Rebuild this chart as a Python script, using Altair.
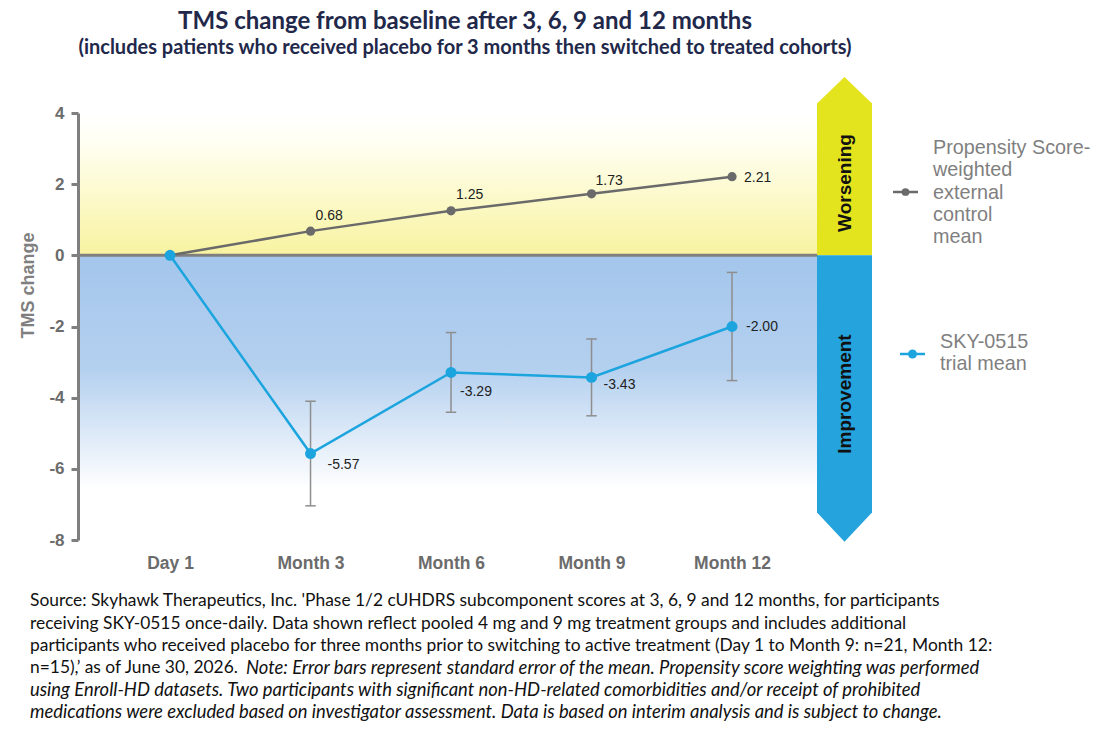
import json
import altair as alt
import pandas as pd

# ---------------- data ----------------
periods = ["Day 1", "Month 3", "Month 6", "Month 9", "Month 12"]
period_index = [0, 1, 2, 3, 4]
control_mean = [0.0, 0.68, 1.25, 1.73, 2.21]
trial_mean = [0.0, -5.57, -3.29, -3.43, -2.00]
trial_se = [0.0, 1.47, 1.12, 1.08, 1.52]
y_ticks = [-8, -6, -4, -2, 0, 2, 4]

series_names = ["Propensity Score-\nweighted\nexternal\ncontrol\nmean", "SKY-0515\ntrial mean"]
zone_labels = ["Worsening", "Improvement"]

title_text = "TMS change from baseline after 3, 6, 9 and 12 months"
subtitle_text = "(includes patients who received placebo for 3 months then switched to treated cohorts)"
footer_normal = [
    "Source: Skyhawk Therapeutics, Inc. 'Phase 1/2 cUHDRS subcomponent scores at 3, 6, 9 and 12 months, for participants",
    "receiving SKY-0515 once-daily. Data shown reflect pooled 4 mg and 9 mg treatment groups and includes additional",
    "participants who received placebo for three months prior to switching to active treatment (Day 1 to Month 9: n=21, Month 12:",
    "n=15),\u2019 as of June 30, 2026.",
]
footer_italic = [
    "Note: Error bars represent standard error of the mean. Propensity score weighting was performed",
    "using Enroll-HD datasets. Two participants with significant non-HD-related comorbidities and/or receipt of prohibited",
    "medications were excluded based on investigator assessment. Data is based on interim analysis and is subject to change.",
]

# ---------------- frames ----------------
ctrl = pd.DataFrame({"i": period_index, "period": periods, "v": control_mean})
ctrl["lbl"] = ctrl["v"].map(lambda v: f"{v:.2f}")
trial = pd.DataFrame({"i": period_index, "period": periods, "v": trial_mean, "se": trial_se})
trial["lbl"] = trial["v"].map(lambda v: f"{v:.2f}")
trial["lo"] = trial["v"] - trial["se"]
trial["hi"] = trial["v"] + trial["se"]
errs = trial[trial["se"] > 0]

W, H = 1022, 427
AX = "Liberation Sans"
GRAY = "#7f7f7f"
CTRL_C = "#6a6a6a"
TRIAL_C = "#1ca4de"

xs = alt.Scale(domain=[-0.655, 6.619], nice=False, zero=False)
ys = alt.Scale(domain=[-8, 4], nice=False, zero=False)

x_axis = alt.Axis(
    values=period_index,
    labelExpr=json.dumps(periods) + "[datum.value]",
    domain=False, ticks=False, grid=False, title=None,
    labelFont=AX, labelFontWeight="bold", labelFontSize=17.5, labelColor="#6b6b6b",
    labelPadding=14,
)
y_axis = alt.Axis(
    values=y_ticks, grid=False, title="TMS change",
    labelExpr="toString(datum.value)",
    labelFont=AX, labelFontWeight="bold", labelFontSize=17, labelColor="#6b6b6b",
    labelPadding=7, tickSize=7, tickWidth=3, tickColor=GRAY,
    domainColor=GRAY, domainWidth=3,
    titleFont=AX, titleFontWeight="bold", titleFontSize=18, titleColor=GRAY,
    titleBaseline="alphabetic", titleX=-45, titleY=172, titleAngle=270,
    zindex=1,
)


def X(field):
    return alt.X(field, type="quantitative", scale=xs, axis=x_axis)


def Y(field):
    return alt.Y(field, type="quantitative", scale=ys, axis=y_axis)


one = pd.DataFrame({"a": [0]})

# ---------------- backgrounds ----------------
zones = pd.DataFrame({"top": [4, 0], "bottom": [0, -8], "zone": ["worse", "better"]})
yellow_grad = alt.LinearGradient(
    gradient="linear", x1=0, x2=0, y1=0, y2=1,
    stops=[alt.GradientStop(color="#ffffff", offset=0),
           alt.GradientStop(color="#fffff3", offset=0.2),
           alt.GradientStop(color="#f8f3a0", offset=1)],
)
blue_grad = alt.LinearGradient(
    gradient="linear", x1=0, x2=0, y1=0, y2=1,
    stops=[alt.GradientStop(color="#a4c6ec", offset=0),
           alt.GradientStop(color="#b4d0ef", offset=0.4),
           alt.GradientStop(color="#ffffff", offset=0.82),
           alt.GradientStop(color="#ffffff", offset=1)],
)
bg_yellow = alt.Chart(zones).transform_filter("datum.zone == 'worse'").mark_rect(color=yellow_grad).encode(
    x=alt.value(0), x2=alt.value(740), y=Y("top"), y2="bottom:Q")
bg_blue = alt.Chart(zones).transform_filter("datum.zone == 'better'").mark_rect(color=blue_grad).encode(
    x=alt.value(0), x2=alt.value(740), y=Y("top"), y2="bottom:Q")
zero_line = alt.Chart(one).mark_rule(color=GRAY, strokeWidth=3).encode(
    y=alt.datum(0, scale=ys), x=alt.value(0), x2=alt.value(740))

# ---------------- arrow ----------------
arrow_top, arrow_bottom = 4.28, -7.24
arrow_df = pd.DataFrame({"a": [0], "top": [arrow_top], "bottom": [arrow_bottom], "zero": [0]})
arrow_y = alt.Chart(arrow_df).mark_rect(color="#e4e41e").encode(
    x=alt.value(739), x2=alt.value(794), y=Y("zero"), y2="top:Q")
arrow_b = alt.Chart(arrow_df).mark_rect(color="#25a3dd").encode(
    x=alt.value(739), x2=alt.value(794), y=Y("zero"), y2="bottom:Q")
tip_up = alt.Chart(arrow_df).mark_point(
    shape="M-1,0.02L1,0.02L0,-0.95Z", filled=True, size=3025, color="#e4e41e", opacity=1, strokeWidth=0
).encode(x=alt.value(766.5), y=Y("top"))
tip_down = alt.Chart(arrow_df).mark_point(
    shape="M-1,-0.02L1,-0.02L0,1.05Z", filled=True, size=3025, color="#25a3dd", opacity=1, strokeWidth=0
).encode(x=alt.value(766.5), y=Y("bottom"))
zone_text = [
    alt.Chart(one).mark_text(text=zone_labels[0], angle=270, font=AX, fontWeight="bold", fontSize=19,
                             color="#111111", align="center", baseline="middle").encode(
        x=alt.value(767), y=alt.value(70)),
    alt.Chart(one).mark_text(text=zone_labels[1], angle=270, font=AX, fontWeight="bold", fontSize=19,
                             color="#111111", align="center", baseline="middle").encode(
        x=alt.value(767), y=alt.value(281)),
]

# ---------------- series ----------------
ctrl_line = alt.Chart(ctrl).mark_line(color=CTRL_C, strokeWidth=2.5).encode(x=X("i"), y=Y("v"))
ctrl_pts = alt.Chart(ctrl).mark_point(filled=True, color=CTRL_C, size=85, opacity=1).encode(x=X("i"), y=Y("v"))

err_rule = alt.Chart(errs).mark_rule(color="#8e8e8e", strokeWidth=1.5).encode(x=X("i"), y=Y("lo"), y2="hi:Q")
err_cap_lo = alt.Chart(errs).mark_point(shape="stroke", size=110, color="#8e8e8e", strokeWidth=1.5, opacity=1).encode(
    x=X("i"), y=Y("lo"))
err_cap_hi = alt.Chart(errs).mark_point(shape="stroke", size=110, color="#8e8e8e", strokeWidth=1.5, opacity=1).encode(
    x=X("i"), y=Y("hi"))

trial_line = alt.Chart(trial).mark_line(color=TRIAL_C, strokeWidth=2.5).encode(x=X("i"), y=Y("v"))
trial_pts = alt.Chart(trial).mark_point(filled=True, color=TRIAL_C, size=120, opacity=1).encode(x=X("i"), y=Y("v"))

ctrl_offsets = {1: (5, -15), 2: (5, -16), 3: (4, -13), 4: (12, 1)}
trial_offsets = {1: (17, 11), 2: (9, 20), 3: (12, 8), 4: (14, 0)}
labels = []
for i, (dx, dy) in ctrl_offsets.items():
    labels.append(alt.Chart(ctrl).transform_filter(f"datum.i == {i}").mark_text(
        align="left", baseline="middle", dx=dx, dy=dy, font=AX, fontSize=14, color="#222222"
    ).encode(x=X("i"), y=Y("v"), text="lbl:N"))
for i, (dx, dy) in trial_offsets.items():
    labels.append(alt.Chart(trial).transform_filter(f"datum.i == {i}").mark_text(
        align="left", baseline="middle", dx=dx, dy=dy, font=AX, fontSize=14, color="#222222"
    ).encode(x=X("i"), y=Y("v"), text="lbl:N"))

# ---------------- legend ----------------
legend = [
    alt.Chart(one).mark_rule(color=CTRL_C, strokeWidth=2.5).encode(x=alt.value(815), x2=alt.value(840), y=alt.value(79)),
    alt.Chart(one).mark_point(filled=True, color=CTRL_C, size=60, opacity=1).encode(x=alt.value(827.5), y=alt.value(79)),
    alt.Chart(one).mark_text(text=series_names[0], lineBreak="\n", lineHeight=22.3, align="left", baseline="middle",
                             font=AX, fontSize=19.8, color=GRAY).encode(x=alt.value(855), y=alt.value(35)),
    alt.Chart(one).mark_rule(color=TRIAL_C, strokeWidth=2.5).encode(x=alt.value(822), x2=alt.value(847), y=alt.value(241)),
    alt.Chart(one).mark_point(filled=True, color=TRIAL_C, size=80, opacity=1).encode(x=alt.value(834.5), y=alt.value(241)),
    alt.Chart(one).mark_text(text=series_names[1], lineBreak="\n", lineHeight=22.3, align="left", baseline="middle",
                             font=AX, fontSize=19.8, color=GRAY).encode(x=alt.value(862), y=alt.value(229)),
]

# ---------------- titles & footer ----------------
TF = "Lato"
titles = [
    alt.Chart(one).mark_text(text=title_text, font=TF, fontWeight="bold", fontSize=24, color="#22284a",
                             align="center", baseline="middle").encode(x=alt.value(387), y=alt.value(-91)),
    alt.Chart(one).mark_text(text=subtitle_text, font=TF, fontWeight="bold", fontSize=20, color="#22284a",
                             align="center", baseline="middle").encode(x=alt.value(387), y=alt.value(-65)),
]
FF = "Lato"
FS = 17.4
FSI = 18.4
foot = []
line_y = [488, 511, 533, 555, 577, 599]
for k, t in enumerate(footer_normal):
    foot.append(alt.Chart(one).mark_text(text=t, font=FF, fontSize=FS, color="#111111", align="left",
                                         baseline="middle").encode(x=alt.value(-48), y=alt.value(line_y[k])))
foot.append(alt.Chart(one).mark_text(text=footer_italic[0], font=FF, fontSize=FSI, fontStyle="italic",
                                     color="#111111", align="left", baseline="middle").encode(
    x=alt.value(168), y=alt.value(line_y[3])))
for k, t in enumerate(footer_italic[1:]):
    foot.append(alt.Chart(one).mark_text(text=t, font=FF, fontSize=FSI, fontStyle="italic", color="#111111",
                                         align="left", baseline="middle").encode(
        x=alt.value(-48), y=alt.value(line_y[4 + k])))

chart = alt.layer(
    bg_yellow, bg_blue, zero_line,
    arrow_y, arrow_b, tip_up, tip_down, *zone_text,
    ctrl_line, ctrl_pts,
    err_rule, err_cap_lo, err_cap_hi,
    trial_line, trial_pts,
    *labels, *legend, *titles, *foot,
).properties(
    width=W, height=H,
    autosize=alt.AutoSizeParams(type="none"),
    padding={"left": 78, "top": 113, "right": 12, "bottom": 192},
    background="#ffffff",
).configure_view(stroke=None)

chart.save("out.html", embed_options={"renderer": "svg", "actions": False})
